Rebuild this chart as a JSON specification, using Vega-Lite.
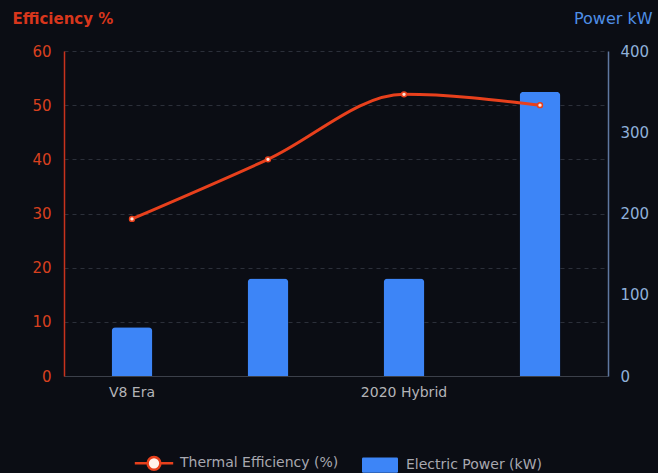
{
  "$schema": "https://vega.github.io/schema/vega-lite/v6.json",
  "width": 544,
  "height": 325,
  "autosize": {"type": "none"},
  "padding": {"left": 64, "top": 51, "right": 50, "bottom": 97},
  "background": "#0b0d14",
  "config": {"view": {"stroke": null}, "font": "DejaVu Sans"},
  "data": {
    "values": [
      {"era": "V8 Era", "efficiency": 29, "power": 60},
      {"era": "2014 Turbo Hybrid", "efficiency": 40, "power": 120},
      {"era": "2020 Hybrid", "efficiency": 52, "power": 120},
      {"era": "2026 Regulations", "efficiency": 50, "power": 350}
    ]
  },
  "encoding": {
    "x": {
      "field": "era",
      "type": "nominal",
      "sort": null,
      "scale": {"paddingInner": 0.7, "paddingOuter": 0.35},
      "axis": {
        "values": ["V8 Era", "2020 Hybrid"],
        "title": null,
        "labelAngle": 0,
        "labelColor": "#b4b4b8",
        "labelFontSize": 14,
        "labelPadding": 9,
        "ticks": false,
        "domainColor": "#3c404a",
        "domainWidth": 1,
        "grid": false
      }
    }
  },
  "layer": [
    {
      "mark": {"type": "bar", "cornerRadiusTopLeft": 4, "cornerRadiusTopRight": 4},
      "encoding": {
        "y": {
          "field": "power",
          "type": "quantitative",
          "scale": {"domain": [0, 400]},
          "axis": {
            "orient": "right",
            "values": [0, 100, 200, 300, 400],
            "grid": false,
            "ticks": false,
            "domainColor": "#5f78a0",
            "domainWidth": 1.5,
            "labelColor": "#8fb0da",
            "labelFontSize": 15,
            "labelPadding": 12,
            "title": "Power kW",
            "titleColor": "#4f8fe6",
            "titleFontSize": 16,
            "titleFontWeight": "normal",
            "titleAngle": 0,
            "titleAlign": "right",
            "titleBaseline": "middle",
            "titleX": 44,
            "titleY": -33
          }
        },
        "color": {
          "datum": "Electric Power (kW)",
          "type": "nominal",
          "scale": {
            "domain": ["Thermal Efficiency (%)", "Electric Power (kW)"],
            "range": ["#fff2ec", "#3d85f7"]
          },
          "legend": {
            "title": null,
            "orient": "none",
            "direction": "horizontal",
            "legendX": 83,
            "legendY": 405,
            "padding": 0,
            "symbolSize": 256,
            "labelOffset": 19,
            "columnPadding": 23,
            "labelColor": "#a8a8b0",
            "labelFontSize": 14,
            "labelBaseline": "middle",
            "encode": {
              "symbols": {
                "update": {
                  "shape": {"signal": "datum.value === 'Thermal Efficiency (%)' ? 'M-2.4,0L-0.8,0M0.8,0L2.4,0M0.8,0A0.8,0.8,0,1,1,-0.8,0A0.8,0.8,0,1,1,0.8,0Z' : 'M-2.1,-0.95L2.1,-0.95Q2.25,-0.95,2.25,-0.8L2.25,0.8Q2.25,0.95,2.1,0.95L-2.1,0.95Q-2.25,0.95,-2.25,0.8L-2.25,-0.8Q-2.25,-0.95,-2.1,-0.95Z'"},
                  "stroke": {"signal": "datum.value === 'Thermal Efficiency (%)' ? '#e8401c' : '#3d85f7'"},
                  "strokeWidth": {"signal": "datum.value === 'Thermal Efficiency (%)' ? 2.5 : 0"},
                  "opacity": {"value": 1}
                }
              }
            }
          }
        }
      }
    },
    {
      "mark": {"type": "line", "interpolate": "monotone", "stroke": "#e8401c", "strokeWidth": 3},
      "encoding": {
        "y": {
          "field": "efficiency",
          "type": "quantitative",
          "scale": {"domain": [0, 60]},
          "axis": {
            "orient": "left",
            "values": [0, 10, 20, 30, 40, 50, 60],
            "grid": true,
            "gridColor": "#2c303a",
            "gridDash": [4, 4],
            "gridWidth": 1,
            "ticks": false,
            "domainColor": "#c8321c",
            "domainWidth": 1.5,
            "labelColor": "#d8401f",
            "labelFontSize": 15,
            "labelPadding": 13,
            "title": "Efficiency %",
            "titleColor": "#d8361c",
            "titleFontSize": 15,
            "titleFontWeight": "bold",
            "titleAngle": 0,
            "titleAlign": "left",
            "titleBaseline": "middle",
            "titleX": -52,
            "titleY": -33
          }
        }
      }
    },
    {
      "mark": {"type": "point", "filled": true, "fill": "#fde6dc", "stroke": "#e8401c", "strokeWidth": 1.5, "size": 24, "opacity": 1},
      "encoding": {
        "y": {"field": "efficiency", "type": "quantitative", "scale": {"domain": [0, 60]}, "axis": null}
      }
    }
  ],
  "resolve": {"scale": {"y": "independent"}}
}
